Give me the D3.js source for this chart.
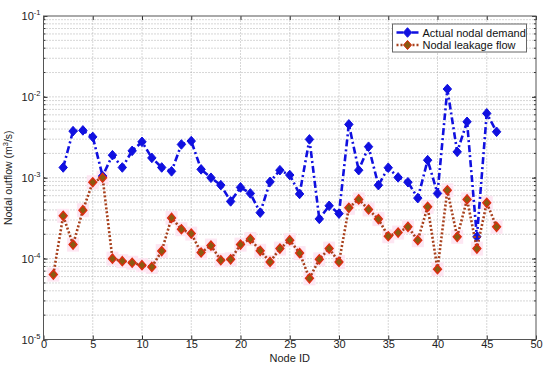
<!DOCTYPE html>
<html>
<head>
<meta charset="utf-8">
<script src="https://cdn.jsdelivr.net/npm/d3@7"></script>
<style>
  body { margin: 0; background: #fff; }
  svg { display: block; font-family: "Liberation Sans", Arial, sans-serif; }
</style>
</head>
<body>
<div id="chart"></div>
<script>
// Node IDs and outflows (m^3/s)
var demandNodes = [2, 3, 4, 5, 6, 7, 8, 9, 10, 11, 12, 13, 14, 15, 16, 17, 18, 19, 20, 21, 22, 23,
  24, 25, 26, 27, 28, 29, 30, 31, 32, 33, 34, 35, 36, 37, 38, 39, 40, 41, 42, 43, 44, 45, 46];
var demandValues = [1.34e-3, 3.77e-3, 3.85e-3, 3.2e-3, 1.05e-3, 1.9e-3, 1.34e-3, 2.15e-3, 2.78e-3,
  1.76e-3, 1.34e-3, 1.2e-3, 2.58e-3, 2.84e-3, 1.27e-3, 1.0e-3, 8.1e-4, 5.1e-4, 7.6e-4, 6.4e-4,
  3.7e-4, 8.9e-4, 1.24e-3, 1.08e-3, 6.3e-4, 2.98e-3, 3.1e-4, 4.5e-4, 3.6e-4, 4.57e-3, 1.24e-3,
  2.42e-3, 8.1e-4, 1.33e-3, 1.01e-3, 8.8e-4, 5.6e-4, 1.65e-3, 6.4e-4, 1.25e-2, 2.09e-3, 4.92e-3,
  1.86e-4, 6.25e-3, 3.7e-3];

var leakNodes = [1, 2, 3, 4, 5, 6, 7, 8, 9, 10, 11, 12, 13, 14, 15, 16, 17, 18, 19, 20, 21, 22, 23,
  24, 25, 26, 27, 28, 29, 30, 31, 32, 33, 34, 35, 36, 37, 38, 39, 40, 41, 42, 43, 44, 45, 46];
var leakValues = [6.35e-5, 3.38e-4, 1.49e-4, 3.97e-4, 8.8e-4, 1.0e-3, 1.0e-4, 9.3e-5, 8.9e-5, 8.3e-5,
  7.9e-5, 1.24e-4, 3.19e-4, 2.31e-4, 2.04e-4, 1.19e-4, 1.45e-4, 9.55e-5, 9.8e-5, 1.49e-4, 1.75e-4,
  1.25e-4, 9.1e-5, 1.33e-4, 1.69e-4, 1.17e-4, 5.7e-5, 9.8e-5, 1.33e-4, 9.1e-5, 4.25e-4, 5.4e-4,
  4.05e-4, 3.08e-4, 1.89e-4, 2.1e-4, 2.47e-4, 1.69e-4, 4.37e-4, 7.4e-5, 7.0e-4, 1.86e-4, 5.4e-4,
  1.33e-4, 4.9e-4, 2.47e-4];

var seriesNames = ["Actual nodal demand", "Nodal leakage flow"];
var xTicks = [0, 5, 10, 15, 20, 25, 30, 35, 40, 45, 50];
var yDecades = [-5, -4, -3, -2, -1];

var width = 550, height = 369;
var margin = { left: 43.5, right: 14, top: 16, bottom: 29.5 };

var svg = d3.select("#chart").append("svg")
  .attr("width", width)
  .attr("height", height);

var x = d3.scaleLinear().domain([0, 50]).range([margin.left, width - margin.right]);
var y = d3.scaleLog().domain([1e-5, 1e-1]).range([height - margin.bottom, margin.top]);

var x0 = x.range()[0], x1 = x.range()[1], y0 = y.range()[0], y1 = y.range()[1];

// grid lines (major + log minor)
var grid = svg.append("g").attr("stroke", "#9a9a9a").attr("stroke-width", 0.8)
  .attr("stroke-dasharray", "1,2");
xTicks.slice(1, -1).forEach(function (t) {
  grid.append("line").attr("x1", x(t)).attr("x2", x(t)).attr("y1", y0).attr("y2", y1);
});
var minor = [];
yDecades.slice(0, -1).forEach(function (e) {
  for (var k = 1; k <= 9; k++) minor.push(k * Math.pow(10, e));
});
minor.slice(1).forEach(function (v) {
  grid.append("line").attr("x1", x0).attr("x2", x1).attr("y1", y(v)).attr("y2", y(v));
});

// axes with inward ticks
var xAxis = d3.axisBottom(x).tickValues(xTicks).tickSize(-4).tickPadding(1).tickFormat(d3.format("d"));
var gx = svg.append("g").attr("transform", "translate(0," + y0 + ")").call(xAxis);
gx.select(".domain").remove();
gx.selectAll("line").attr("stroke", "#333");
gx.selectAll("text").attr("font-size", 11).attr("fill", "#222")
  .attr("font-family", "Liberation Sans, Arial, sans-serif");
svg.append("g").attr("transform", "translate(0," + y1 + ")")
  .call(d3.axisTop(x).tickValues(xTicks).tickSize(-4).tickFormat(""))
  .call(function (g) { g.select(".domain").remove(); g.selectAll("line").attr("stroke", "#333"); });

var yAxis = d3.axisLeft(y).tickValues(yDecades.map(function (e) { return Math.pow(10, e); }))
  .tickSize(-4).tickFormat("");
svg.append("g").attr("transform", "translate(" + x0 + ",0)").call(yAxis)
  .call(function (g) { g.select(".domain").remove(); g.selectAll("line").attr("stroke", "#333"); });
svg.append("g").attr("transform", "translate(" + x1 + ",0)")
  .call(d3.axisRight(y).tickValues(yDecades.map(function (e) { return Math.pow(10, e); })).tickSize(-4).tickFormat(""))
  .call(function (g) { g.select(".domain").remove(); g.selectAll("line").attr("stroke", "#333"); });
// minor ticks
minor.forEach(function (v) {
  svg.append("line").attr("x1", x0).attr("x2", x0 + 2).attr("y1", y(v)).attr("y2", y(v)).attr("stroke", "#333");
  svg.append("line").attr("x1", x1).attr("x2", x1 - 2).attr("y1", y(v)).attr("y2", y(v)).attr("stroke", "#333");
});

// y tick labels 10^e
yDecades.forEach(function (e) {
  var t = svg.append("text").attr("x", x0 - 3).attr("y", y(Math.pow(10, e)) + 4)
    .attr("text-anchor", "end").attr("font-size", 11).attr("fill", "#222");
  t.append("tspan").text("10");
  t.append("tspan").attr("dy", -5).attr("font-size", 7.5).text(String(e));
});

// frame
svg.append("rect").attr("x", x0).attr("y", y1).attr("width", x1 - x0).attr("height", y0 - y1)
  .attr("fill", "none").attr("stroke", "#555").attr("stroke-width", 1);

// axis titles
svg.append("text").attr("x", (x0 + x1) / 2).attr("y", 362).attr("text-anchor", "middle")
  .attr("font-size", 11).attr("fill", "#222").text("Node ID");
var yl = svg.append("text").attr("transform", "translate(12," + ((y0 + y1) / 2) + ") rotate(-90)")
  .attr("text-anchor", "middle").attr("font-size", 10.5).attr("fill", "#222");
yl.append("tspan").text("Nodal outflow (m");
yl.append("tspan").attr("dy", -4).attr("font-size", 7.5).text("3");
yl.append("tspan").attr("dy", 4).text("/s)");

var blue = "#1010e0";
var lineColor = "#a8401c";
var leakFill = "#8a5a10";
var leakStroke = "#e02a10";
function diamond(w, h) {
  return "M0," + (-h) + "L" + w + ",0L0," + h + "L" + (-w) + ",0Z";
}

var demand = demandNodes.map(function (n, i) { return [n, demandValues[i]]; });
var leak = leakNodes.map(function (n, i) { return [n, leakValues[i]]; });
var line = d3.line().x(function (d) { return x(d[0]); }).y(function (d) { return y(d[1]); });

// pink halo seen behind leakage markers
svg.append("g").selectAll("rect").data(leak).join("rect")
  .attr("x", function (d) { return x(d[0]) - 6; }).attr("y", function (d) { return y(d[1]) - 7; })
  .attr("width", 12).attr("height", 14).attr("fill", "#fde6f2");

svg.append("path").datum(demand).attr("d", line).attr("fill", "none")
  .attr("stroke", blue).attr("stroke-width", 2.6).attr("stroke-dasharray", "7,3,2,3");
svg.append("g").selectAll("path").data(demand).join("path")
  .attr("transform", function (d) { return "translate(" + x(d[0]) + "," + y(d[1]) + ")"; })
  .attr("d", diamond(4.2, 4.8)).attr("fill", blue).attr("stroke", blue).attr("stroke-width", 1);

svg.append("path").datum(leak).attr("d", line).attr("fill", "none")
  .attr("stroke", lineColor).attr("stroke-width", 2.6).attr("stroke-dasharray", "2,2");
svg.append("g").selectAll("path").data(leak).join("path")
  .attr("transform", function (d) { return "translate(" + x(d[0]) + "," + y(d[1]) + ")"; })
  .attr("d", diamond(4, 4.6)).attr("fill", leakFill).attr("stroke", leakStroke).attr("stroke-width", 1.3);

// legend
var lg = svg.append("g").attr("transform", "translate(392.5,24)");
lg.append("rect").attr("width", 134).attr("height", 28).attr("fill", "#fff")
  .attr("stroke", "#666").attr("stroke-width", 1);
[0, 1].forEach(function (i) {
  var yy = 8.5 + i * 12.5;
  lg.append("line").attr("x1", 4).attr("x2", 26).attr("y1", yy).attr("y2", yy)
    .attr("stroke", i === 0 ? blue : lineColor).attr("stroke-width", 2.6)
    .attr("stroke-dasharray", i === 0 ? "7,3,2,3" : "2,2");
  lg.append("path").attr("transform", "translate(15," + yy + ")")
    .attr("d", i === 0 ? diamond(4.2, 4.8) : diamond(4, 4.6))
    .attr("fill", i === 0 ? blue : leakFill).attr("stroke", i === 0 ? blue : leakStroke);
  lg.append("text").attr("x", 30).attr("y", yy + 4).attr("font-size", 11).attr("fill", "#111")
    .text(seriesNames[i]);
});
</script>
</body>
</html>
